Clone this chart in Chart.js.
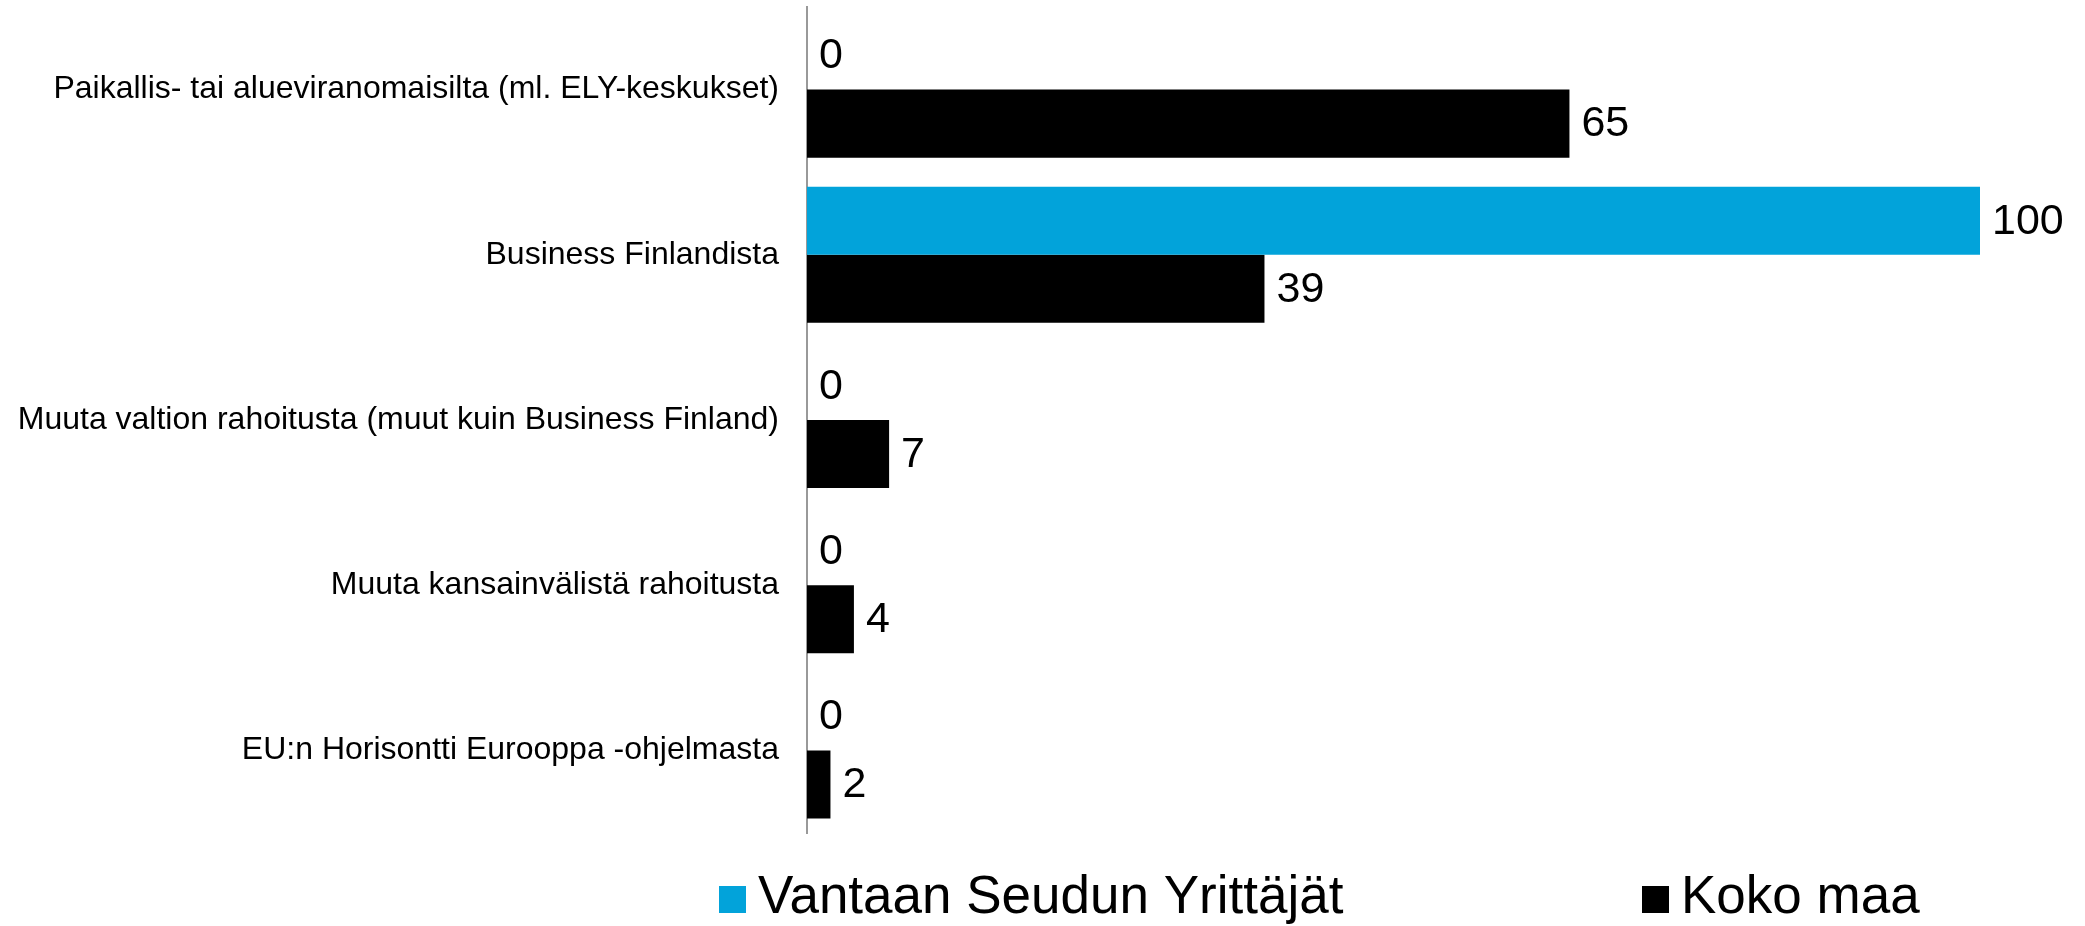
<!DOCTYPE html>
<html>
<head>
<meta charset="utf-8">
<script src="https://cdn.jsdelivr.net/npm/chart.js@4/dist/chart.umd.min.js"></script>
<style>
  html, body { margin: 0; padding: 0; background: #fff; }
  #wrap { width: 2085px; height: 926px; }
</style>
</head>
<body>
<div id="wrap"><canvas id="chart"></canvas></div>
<script>
// Data
const categories = [
    'Paikallis- tai alueviranomaisilta (ml. ELY-keskukset)',
    'Business Finlandista',
    'Muuta valtion rahoitusta (muut kuin Business Finland)',
    'Muuta kansainvälistä rahoitusta',
    'EU:n Horisontti Eurooppa -ohjelmasta'
];
const vantaaValues = [0, 100, 0, 0, 0];
const kokoMaaValues = [65, 39, 7, 4, 2];
const seriesNames = ['Vantaan Seudun Yrittäjät', 'Koko maa'];

const FONT = '"Liberation Sans", Arial, sans-serif';

// Arvot palkkien perään
const valueLabels = {
    id: 'valueLabels',
    afterDatasetsDraw(chart) {
        const ctx = chart.ctx;
        ctx.save();
        ctx.font = '43px ' + FONT;
        ctx.fillStyle = '#000';
        ctx.textAlign = 'left';
        ctx.textBaseline = 'middle';
        chart.data.datasets.forEach((ds, i) => {
            chart.getDatasetMeta(i).data.forEach((bar, j) => {
                ctx.fillText(String(ds.data[j]), bar.x + 12, bar.y + 1);
            });
        });
        ctx.restore();
    }
};

// Selite alas
const bottomLegend = {
    id: 'bottomLegend',
    afterDraw(chart) {
        const ctx = chart.ctx;
        const baseline = 913;
        const starts = [719, 1642];
        ctx.save();
        ctx.font = '53px ' + FONT;
        ctx.textBaseline = 'alphabetic';
        chart.data.datasets.forEach((ds, i) => {
            const x = starts[i];
            ctx.fillStyle = ds.backgroundColor;
            ctx.fillRect(x, baseline - 27, 27, 27);
            ctx.fillStyle = '#000';
            ctx.fillText(ds.label, x + 39, baseline);
        });
        ctx.restore();
    }
};

const ctx = document.getElementById('chart').getContext('2d');
new Chart(ctx, {
    type: 'bar',
    data: {
        labels: categories,
        datasets: [
            {
                label: seriesNames[0],
                data: vantaaValues,
                backgroundColor: '#02A3DA',
                categoryPercentage: 0.824,
                barPercentage: 1
            },
            {
                label: seriesNames[1],
                data: kokoMaaValues,
                backgroundColor: '#000000',
                categoryPercentage: 0.824,
                barPercentage: 1
            }
        ]
    },
    options: {
        indexAxis: 'y',
        responsive: true,
        maintainAspectRatio: false,
        animation: false,
        layout: {
            padding: { top: 7, right: 105, bottom: 93, left: 0 }
        },
        plugins: {
            legend: { display: false },
            tooltip: { enabled: false }
        },
        scales: {
            x: {
                display: false,
                min: 0,
                max: 100
            },
            y: {
                grid: { display: false },
                border: { display: true, color: '#999999', width: 2 },
                ticks: {
                    color: '#000',
                    padding: 20,
                    font: { family: FONT, size: 32 }
                },
                afterFit(scale) {
                    scale.width = 807;
                    scale.paddingTop = 0;
                    scale.paddingBottom = 0;
                }
            }
        }
    },
    plugins: [valueLabels, bottomLegend]
});
</script>
</body>
</html>
